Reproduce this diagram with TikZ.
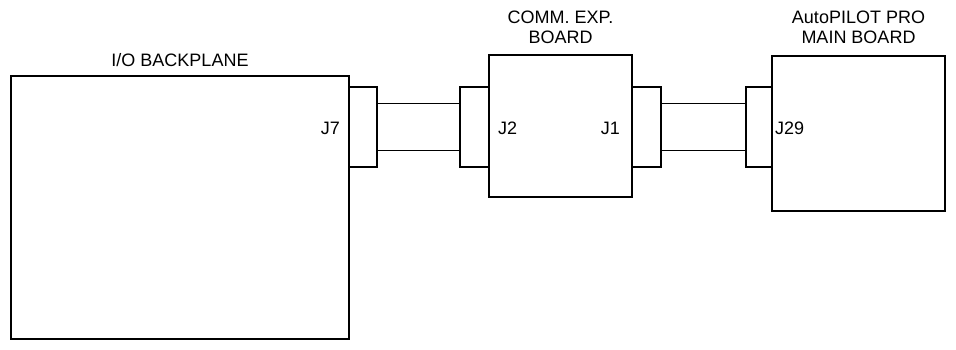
\documentclass[tikz,border=0pt]{standalone}
\usepackage{fontspec}
\setmainfont{Liberation Sans}
\usetikzlibrary{positioning}

\tikzset{
  board/.style={draw=black, line width=2.4pt, inner sep=0pt},
  plug/.style={draw=black, line width=1.9pt, inner sep=0pt, minimum height=80pt},
  cable/.style={black, line width=1.9pt},
  title/.style={font=\fontsize{18}{19.5}\selectfont, align=center, inner sep=0pt},
  port/.style={font=\fontsize{18}{19}\selectfont, inner sep=0pt}
}

\begin{document}
\begin{tikzpicture}[x=1pt, y=-1pt]
  \useasboundingbox (0,0) rectangle (956,349);
  \def\Off{23.5pt}

  % --- boards ---
  \node[board, minimum width=338pt, minimum height=263pt] (backplane) at (180,207.5) {};
  \node[board, minimum width=143pt, minimum height=142pt] (comm) at (560.5,126) {};
  \node[board, minimum width=173pt, minimum height=155pt] (main) at (858.5,133.5) {};

  % --- connectors on the board edges ---
  \node[plug, minimum width=28pt] (j7) at (363,127) {};
  \node[plug, minimum width=29pt] (j2) at (474.5,127) {};
  \node[plug, minimum width=29pt] (j1) at (646.5,127) {};
  \node[plug, minimum width=26pt] (j29) at (759,127) {};

  % --- cables between the connectors ---
  \foreach \a/\b in {j7/j2, j1/j29} {
    \draw[cable] ([yshift=\Off]\a.east) -- ([yshift=\Off]\b.west);
    \draw[cable] ([yshift=-\Off]\a.east) -- ([yshift=-\Off]\b.west);
  }

  % --- board titles ---
  \node[title, above=8pt of backplane] (backplanetitle) {I/O BACKPLANE};
  \node[title, above=10pt of comm] (commtitle) {COMM. EXP.\\BOARD};
  \node[title, above=11pt of main] (maintitle) {AutoPILOT PRO\\MAIN BOARD};

  % --- port labels ---
  \node[port, anchor=east] (j7label) at (340,128) {J7};
  \node[port, anchor=west] (j2label) at (498,128) {J2};
  \node[port, anchor=east] (j1label) at (620,128) {J1};
  \node[port, anchor=west] (j29label) at (775,128) {J29};

\end{tikzpicture}
\end{document}
